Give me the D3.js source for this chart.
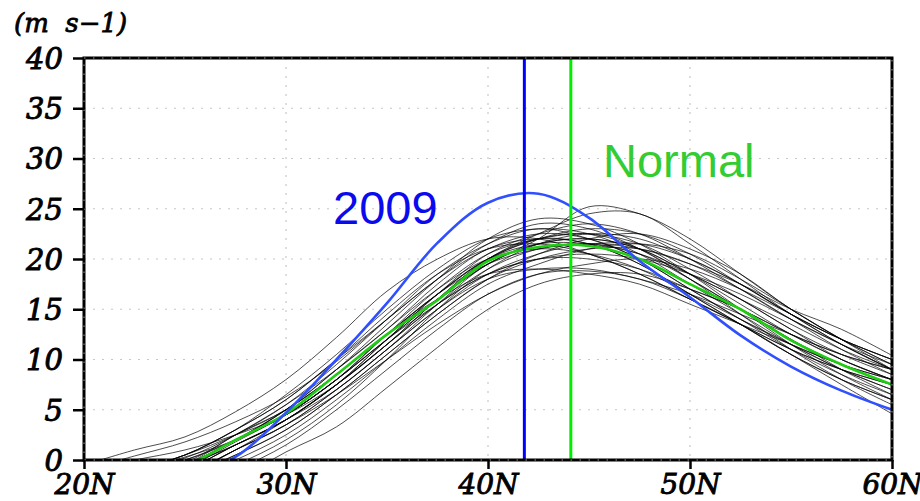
<!DOCTYPE html>
<html>
<head>
<meta charset="utf-8">
<script src="https://cdn.jsdelivr.net/npm/d3@7"></script>
<style>
  body { margin: 0; background: #fff; }
</style>
</head>
<body>
<svg width="920" height="501"></svg>
<script>
// latitude grid (degrees north)
var lats = [20, 22.5, 25, 27.5, 30, 32.5, 35, 37.5, 40, 42.5, 45, 47.5, 50, 52.5, 55, 57.5, 60];

// 2009 profile and the climatological normal (m s-1)
var year2009 = [-4, -3, -1.6, 0.3, 4.7, 10.0, 15.6, 21.6, 25.6, 26.5, 24.1, 19.8, 16.2, 12.4, 9.3, 6.9, 5.0];
var normal   = [-3, -2, -0.6, 2.0, 4.6, 8.5, 12.5, 15.9, 19.8, 21.2, 21.3, 20.0, 17.5, 15.0, 11.9, 9.5, 7.5];

// jet axis positions
var axis2009 = 41.8;
var axisNormal = 44.1;

// individual years
var years = [
  [-2, -1, 0.5, 3, 6, 10, 14, 18, 21, 22.5, 22, 20, 17, 14, 11.5, 9.5, 8],
  [-4, -3, -1.5, 1, 3.5, 7, 11, 15.5, 19.5, 21.5, 22, 21, 18.5, 16, 13, 10.5, 8.5],
  [-0.5, 1.0, 2.3, 4.8, 8, 12.2, 16.8, 20, 22, 22, 20.5, 18.5, 16, 13.5, 11, 9, 7.5],
  [-3, -2.5, -1, 1.5, 4, 7.5, 12, 16.5, 20.5, 22.5, 23.5, 22.5, 20, 17, 14, 11.5, 9.5],
  [-5, -4, -2.5, -0.5, 2, 5.5, 10, 15, 19, 21.5, 22.5, 22, 20, 17.5, 14.5, 12, 10],
  [-2, -1, 0.2, 2.5, 5.5, 9.5, 14, 18.5, 21.5, 23, 22, 20, 17, 14, 11, 8.5, 6.5],
  [-3, -2, -0.8, 1.8, 4.5, 8, 12.5, 16, 18.5, 19, 18.5, 17.5, 15.5, 13.5, 11.5, 9.5, 8],
  [-4, -3, -1.8, 0.5, 3, 6.5, 10.5, 14.5, 18, 20.5, 22, 22.5, 21, 18.5, 15, 12, 9.5],
  [-1, 0.4, 1.8, 3.8, 6.3, 9.8, 14, 18, 21.5, 23.5, 23, 21, 18, 15, 12, 9.5, 7.5],
  [-3, -2, -0.5, 2, 5, 9, 13, 17, 20, 21, 20.5, 19, 16.5, 14, 11.5, 9, 7],
  [-4, -3, -1.5, 1, 4, 7.5, 11.5, 15.5, 18.5, 20, 20, 19, 17, 15, 12.5, 10.5, 9],
  [-2, -1, 0.5, 3, 6.5, 10.5, 15, 19, 22, 23, 22.5, 20.5, 17.5, 14.5, 11.5, 9, 7],
  [-5, -3.5, -2, 0, 2.5, 6, 10, 14, 17.5, 19.5, 21, 21.5, 20.5, 18, 15, 12, 9.5],
  [-3, -2, -0.5, 2, 4.5, 8, 12, 16, 19.5, 21.5, 22, 21, 18.5, 15.5, 12.5, 10, 8],
  [-3, -2.5, -1, 1.5, 4, 7, 11, 15, 18, 19, 19, 18, 16.5, 14.5, 12.5, 10.5, 9],
  [-2, -1, 0.5, 2.5, 5, 8.5, 12.5, 16.5, 20, 22, 23, 22.5, 20.5, 17.5, 14.5, 12, 10],
  [-4, -3, -1.5, 1, 3.5, 7, 11, 15, 18.5, 20.5, 21.5, 21, 19.5, 17.5, 15, 13, 10.4],
  [-3, -2, -0.3, 2.5, 5.5, 9, 13, 17.5, 21, 22, 21.5, 19.5, 16.5, 13.5, 10.5, 8, 6],
  [-2, -1.5, 0, 2, 4.5, 8, 12, 15.5, 18.5, 20, 20.5, 20, 18.5, 16.5, 14, 11.5, 9],
  [-3, -2, -0.7, 2, 4.5, 8, 12.5, 17, 20.5, 22, 22.5, 21.5, 19, 16, 13, 10, 8],
  [-4, -3, -1.5, 1, 3.5, 6.5, 10, 13.5, 16.5, 18.5, 19.5, 20, 19, 17, 14.5, 12, 10],
  [-2, -1, 0.5, 3, 6, 10, 14.5, 18.5, 21, 21.5, 20.5, 18.5, 16, 13.5, 11, 9, 7.5],
  [-3, -2, -0.5, 1.5, 4, 7.5, 11.5, 16, 20, 22.5, 24.5, 24.5, 21.5, 18, 14.5, 11.5, 9],
  [-3, -2.5, -1, 1.5, 4, 7.5, 11.5, 15.5, 19, 21, 21.5, 20.5, 18, 15, 12, 9, 6.5],
  [-4, -3, -1.5, 0.5, 3, 6.5, 10.5, 14.5, 18, 20, 21, 21, 19.5, 17, 14, 11, 8.5],
  [-3, -2, -0.5, 2.5, 5, 8.5, 12.5, 16.5, 19.5, 21, 21.5, 21.5, 20, 17.5, 14.5, 11.5, 9],
  [-2, -1, 0.3, 2, 4.5, 8, 12, 16, 19.5, 22, 25.2, 24.5, 22, 18.5, 15, 12, 9],
  [-3, -2, -0.5, 2, 5, 8.5, 12.5, 16.5, 20, 22, 22.5, 21, 18, 14.5, 11, 8, 5.5],
  [-1, 0, 1, 2.5, 4.5, 7.5, 11.5, 16, 20, 22, 21.5, 19.5, 16.5, 13.5, 10.5, 8, 6],
  [-3, -2, -0.5, 1.5, 4, 7.5, 12, 16.5, 20, 21.5, 21.5, 20.5, 18.5, 16, 13.5, 11, 9],
  [-6, -5, -3, -1, 1.5, 5, 9, 13, 16.5, 18.5, 18.8, 18, 16, 13.5, 10.5, 7.5, 4.6],
  [-2, -1, 0, 2, 5, 9, 13.5, 18, 22, 24, 23.5, 21.5, 18.5, 15, 11.5, 8.5, 6],
  [-7, -6, -4, -2, 0.8, 3.3, 7.2, 11.2, 15, 17.5, 18.5, 18.5, 17, 15, 12.5, 10, 8]
];

var xTicks = [20, 30, 40, 50, 60];
var xTickLabels = ["20N", "30N", "40N", "50N", "60N"];
var yTicks = [0, 5, 10, 15, 20, 25, 30, 35, 40];

var svg = d3.select("svg");
var margin = {top: 58, right: 28, bottom: 41, left: 84};
var width = svg.attr("width") - margin.left - margin.right;
var height = svg.attr("height") - margin.top - margin.bottom;
var g = svg.append("g").attr("transform", "translate(" + margin.left + "," + margin.top + ")");

var x = d3.scaleLinear().domain([20, 60]).range([0, width]);
var y = d3.scaleLinear().domain([0, 40]).range([height, 0]);

svg.append("defs").append("clipPath").attr("id", "clip")
  .append("rect").attr("width", width).attr("height", height);

// dotted grid
g.append("g").selectAll("line").data(yTicks.slice(1, -1)).enter().append("line")
  .attr("x1", 0).attr("x2", width)
  .attr("y1", function(d) { return y(d); }).attr("y2", function(d) { return y(d); })
  .attr("stroke", "#c8c8c8").attr("stroke-width", 1.2).attr("stroke-dasharray", "2,7");
g.append("g").selectAll("line").data(xTicks.slice(1, -1)).enter().append("line")
  .attr("y1", 0).attr("y2", height)
  .attr("x1", function(d) { return x(d); }).attr("x2", function(d) { return x(d); })
  .attr("stroke", "#c8c8c8").attr("stroke-width", 1.2).attr("stroke-dasharray", "2,7");

var line = d3.line()
  .curve(d3.curveCatmullRom.alpha(0.5))
  .x(function(d, i) { return x(lats[i]); })
  .y(function(d) { return y(d); });

var plot = g.append("g").attr("clip-path", "url(#clip)");

plot.selectAll(".yr").data(years).enter().append("path")
  .attr("class", "yr")
  .attr("d", line)
  .attr("fill", "none").attr("stroke", "#000").attr("stroke-width", 0.7);

plot.append("path").datum(normal).attr("d", line)
  .attr("fill", "none").attr("stroke", "#1ecc12").attr("stroke-width", 2.6);
plot.append("path").datum(year2009).attr("d", line)
  .attr("fill", "none").attr("stroke", "#3050ff").attr("stroke-width", 2.6);

// jet axis markers
g.append("line").attr("x1", x(axis2009)).attr("x2", x(axis2009)).attr("y1", 0).attr("y2", height)
  .attr("stroke", "#0000ff").attr("stroke-width", 3);
g.append("line").attr("x1", x(axisNormal)).attr("x2", x(axisNormal)).attr("y1", 0).attr("y2", height)
  .attr("stroke", "#00ee00").attr("stroke-width", 3);

// frame, with the faint dotted texture of the original
g.append("rect").attr("width", width).attr("height", height)
  .attr("fill", "none").attr("stroke", "#000").attr("stroke-width", 3);
g.append("rect").attr("width", width).attr("height", height)
  .attr("fill", "none").attr("stroke", "#999").attr("stroke-width", 1).attr("stroke-dasharray", "1.5,7.5");

// axes
var yAxis = d3.axisLeft(y).tickValues(yTicks).tickSize(11).tickPadding(10).tickFormat(d3.format("d"));
var xAxis = d3.axisBottom(x).tickValues(xTicks).tickSize(9).tickPadding(5)
  .tickFormat(function(d, i) { return xTickLabels[i]; });

var ya = g.append("g").call(yAxis);
var xa = g.append("g").attr("transform", "translate(0," + height + ")").call(xAxis);
[ya, xa].forEach(function(a) {
  a.select(".domain").remove();
  a.selectAll(".tick line").attr("stroke", "#000").attr("stroke-width", 2.5);
  a.selectAll(".tick text").attr("fill", "#000")
    .style("font-size", "29px").style("font-family", "'DejaVu Serif', serif").style("font-style", "italic")
    .attr("stroke", "#000").attr("stroke-width", 0.9);
});
ya.selectAll(".tick text").attr("dy", "0.36em");
xa.selectAll(".tick text").attr("dy", "0.72em").style("font-size", "28px");

// units
svg.append("text").attr("x", 14).attr("y", 32)
  .style("font-family", "'DejaVu Serif', serif").style("font-style", "italic").style("font-size", "26px")
  .attr("stroke", "#000").attr("stroke-width", 0.8)
  .attr("xml:space", "preserve")
  .text("(m  s\u22121)");

// labels
g.append("text").attr("x", 333 - margin.left).attr("y", 224 - margin.top)
  .style("font-family", "Arial, 'Liberation Sans', sans-serif").style("font-size", "47px")
  .attr("fill", "#0a0aee").text("2009");
g.append("text").attr("x", 603 - margin.left).attr("y", 177 - margin.top)
  .style("font-family", "Arial, 'Liberation Sans', sans-serif").style("font-size", "47px")
  .attr("fill", "#33cc33").text("Normal");
</script>
</body>
</html>
